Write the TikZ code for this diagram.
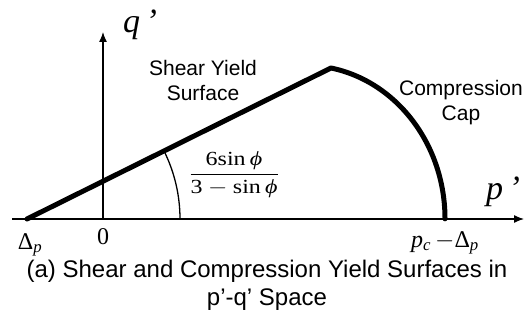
\documentclass[tikz,border=0pt]{standalone}
\usepackage{amsmath}
\usepackage{fontspec}
\setmainfont{Liberation Serif}
\setsansfont{Liberation Sans}
\usetikzlibrary{arrows.meta}
\newcommand{\vi}[1]{\textit{#1}}

\begin{document}
\begin{tikzpicture}[x=1pt,y=1pt,>={Latex[length=10pt,width=8pt]},
  axis/.style={line width=1.3pt},
  yieldline/.style={line width=5pt,line cap=round,line join=round},
  lbl/.style={font=\fontsize{21}{25}\selectfont\sffamily,align=center,inner sep=0pt},
  captext/.style={font=\fontsize{24}{28}\selectfont\sffamily,align=center,inner sep=0pt},
  axlbl/.style={font=\fontsize{34}{34}\selectfont\itshape},
  sym/.style={font=\fontsize{24}{28}\selectfont,inner sep=0pt}]
\useasboundingbox (0,0) rectangle (525,327);

% Axes.
\coordinate (O) at (103,108);
\coordinate (xs) at (12,108);
\coordinate (xe) at (524,108);
\coordinate (ye) at (103,295);
\draw[axis,->] (xs) -- (xe);
\draw[axis,->] (O) -- (ye);

% Shear line and compression cap.
\coordinate (D) at (27,108);
\coordinate (peak) at (331,259);
\draw[yieldline] (D) -- (peak)
  arc[start angle=79.3,end angle=0,x radius=140,y radius=153.5] coordinate (pc);
\draw[axis] (D) ++(153,0) arc[start angle=0,end angle=26.4,radius=153];

\node[axlbl] (q) at (140,302) {q\,’};
\node[axlbl] (p) at (503,135) {p\,’};
\node[sym] (zero) at (103,90) {0};
\node[sym] (dp) at (30,82) {Δ$_{\vi{p}}$};
\node[sym] (pcdp) at (445,84) {\vi{p}$_{\vi{c}}\,{-}$Δ$_{\vi{p}}$};
\node[sym,font=\fontsize{20}{24}\selectfont,xscale=1.2] (ratio) at (234,152)
  {$\dfrac{\text{6sin}\,\text{\vi{ϕ}}}{\text{3}-\text{sin}\,\text{\vi{ϕ}}}$};

\node[lbl] (shear) at (203,247) {Shear Yield\\Surface};
\node[lbl] (capl) at (461,224) {Compression\\Cap};
\node[captext] (caption) at (267,42)
  {(a) Shear and Compression Yield Surfaces in\\p’-q’ Space};
\end{tikzpicture}
\end{document}
